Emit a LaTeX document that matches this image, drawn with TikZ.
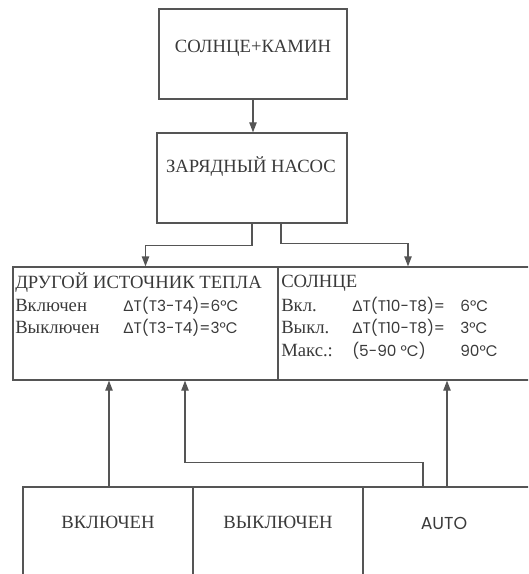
\documentclass[tikz,border=0pt]{standalone}
\usepackage{fontspec}
\setmainfont{Liberation Serif}
\newfontfamily\geo{Poppins}
\newfontfamily\greek{Liberation Sans}
\usetikzlibrary{arrows.meta,calc}
\definecolor{ink}{HTML}{3A3A3A}
\definecolor{wire}{HTML}{555555}
\newcommand\dT{{\greek Δ}T}
\begin{document}
\begin{tikzpicture}[x=0.75pt,y=-0.75pt,
  frame/.style 2 args={draw=wire,line width=0.9pt,minimum width=#1*0.75pt,minimum height=#2*0.75pt,inner sep=0},
  flow/.style={draw=wire,line width=0.9pt,-{Triangle[length=7.5pt,width=5.5pt]}},
  lbl/.style={text=ink,inner sep=0,font=\fontsize{14}{16}\selectfont},
  num/.style={text=ink,inner sep=0,font=\geo\fontsize{11.5}{13}\selectfont},
]
\useasboundingbox (0,0) rectangle (528,574);
\clip (0,0) rectangle (528,574);

% boxes
\node[frame={188}{90}] (src) at (253,54) {};
\node[frame={190}{90}] (pump) at (252,178) {};
\node[frame={265}{113}] (other) at (145.5,323.5) {};
\node[frame={254}{113}] (sun) at (405,323.5) {};
\node[frame={170}{95}] (on) at (108,534.5) {};
\node[frame={170}{95}] (off) at (278,534.5) {};
\node[frame={170}{95}] (auto) at (448,534.5) {};

% box titles
\node[lbl,anchor=base] (srcT) at (253,53) {СОЛНЦЕ+КАМИН};
\node[lbl,anchor=base] (pumpT) at (251,172) {ЗАРЯДНЫЙ НАСОС};
\node[lbl,anchor=base] (onT) at (108,528) {ВКЛЮЧЕН};
\node[lbl,anchor=base] (offT) at (278,528) {ВЫКЛЮЧЕН};
\node[num,anchor=base,font=\geo\fontsize{13}{15}\selectfont] (autoT) at (444,529) {AUTO};

% other heat source settings
\node[lbl,anchor=base west] (o1) at (15,288) {ДРУГОЙ ИСТОЧНИК ТЕПЛА};
\node[lbl,anchor=base west] (o2) at (15,311) {Включен};
\node[lbl,anchor=base west] (o3) at (15,333) {Выключен};
\node[num,anchor=base west] (o2v) at (123,311) {\dT(T3-T4)=6°C};
\node[num,anchor=base west] (o3v) at (123,333) {\dT(T3-T4)=3°C};

% solar settings
\node[lbl,anchor=base west] (s1) at (281,287) {СОЛНЦЕ};
\node[lbl,anchor=base west] (s2) at (281,311) {Вкл.};
\node[lbl,anchor=base west] (s3) at (281,333) {Выкл.};
\node[lbl,anchor=base west] (s4) at (281,356) {Макс.:};
\node[num,anchor=base west] (s2a) at (352,311) {\dT(T10-T8)=};
\node[num,anchor=base west] (s3a) at (352,333) {\dT(T10-T8)=};
\node[num,anchor=base west] (s4a) at (352,356) {(5-90 °C)};
\node[num,anchor=base west] (s2b) at (460,311) {6°C};
\node[num,anchor=base west] (s3b) at (460,333) {3°C};
\node[num,anchor=base west] (s4b) at (460,356) {90°C};

% connector end points
\coordinate (pumpR) at ($(pump.south)+(29,0)$);
\coordinate (onUp) at ($(on.north)+(1,0)$);
\coordinate (autoL) at ($(auto.north)+(-25,0)$);
\coordinate (autoR) at ($(auto.north)+(-1,0)$);
\coordinate (otherIn) at ($(other.south)+(39.5,0)$);
\coordinate (sunIn) at ($(sun.north)+(3,0)$);

% connectors
\draw[flow] (src.south) -- (src.south |- pump.north);
\draw[flow] (pump.south) -- ++(0,22) -| (other.north);
\draw[flow] (pumpR) -- ++(0,20) -| (sunIn);
\draw[flow] (onUp) -- (onUp |- other.south);
\draw[flow] (autoL) -- ++(0,-24) -| (otherIn);
\draw[flow] (autoR) -- (autoR |- sun.south);
\end{tikzpicture}
\end{document}
